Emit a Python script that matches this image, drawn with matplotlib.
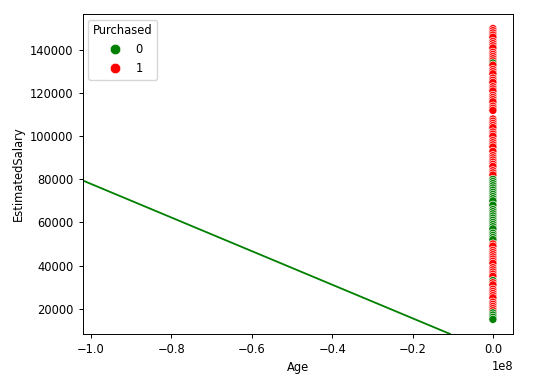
import pandas as pd
import matplotlib
matplotlib.use('Agg')
import matplotlib.pyplot as plt
import seaborn as sns

# salaries, top to bottom, in the order they are drawn
salary = [
    150000, 149000, 148000, 147000, 146000, 144000, 143000, 142000, 141000, 139000, 138000, 137000, 136000, 135000,
    134000,
    133000, 131000, 130000, 129000, 127000, 126000, 125000, 123000, 122000, 121000, 119000, 118000, 117000,
    116000, 114000, 113000, 112000, 108000, 107000, 106000, 105000, 104000, 102000, 101000, 100000, 98000,
    97000, 96000, 95000, 93000, 91000, 90000, 89000, 88000, 87000, 86000, 84000, 83000, 82000,
    69000, 67000, 56000,
    80000, 79000, 78000, 77000, 76000, 75000, 74000, 73000, 72000, 71000, 70000, 68000, 66000, 65000, 64000,
    63000, 62000, 61000, 60000, 59000, 58000, 57000, 55000, 54000, 53000, 52000,
    50000, 49000, 47000, 46000, 45000, 44000, 43000, 42000, 41000, 39000, 38000, 37000, 36000, 35000,
    33000,
    32000, 31000, 29000, 28000, 27000, 26000, 25000, 23000, 22000, 21000, 20000, 19000,
    18000, 17000, 16000, 15000,
]
purchased = (
    [1] * 14 + [0] + [1] * 39 + [1] * 3 + [0] * 26 + [1] * 14 + [0] + [1] * 12 + [0] * 4
)
age = [
    47, 49, 52, 35, 41, 46, 60, 37, 39, 42, 53, 50, 38, 48,
    35,
    41, 57, 36, 47, 59, 38, 45, 51, 40, 44, 55, 49, 39,
    42, 58, 46, 37, 50, 43, 54, 48, 39, 36, 45, 52, 41,
    47, 56, 38, 44, 49, 53, 40, 46, 57, 42, 48, 51, 39,
    52, 45, 59,
    27, 31, 26, 35, 29, 33, 24, 37, 28, 30, 36, 25, 32, 34, 21,
    38, 27, 29, 23, 31, 35, 26, 19, 33, 28, 30,
    47, 54, 50, 46, 58, 49, 45, 53, 48, 60, 51, 56, 44, 52,
    26,
    57, 48, 49, 55, 46, 59, 51, 47, 50, 53, 49, 58,
    18, 22, 20, 19,
]

# decision line endpoints
line_x = [-1.021e8, -0.107e8]
line_y = [79500, 8250]

df = pd.DataFrame({'Age': age, 'EstimatedSalary': salary, 'Purchased': purchased})

fs = 8.3
plt.rcParams.update({
    'font.size': fs,
    'axes.linewidth': 0.7,
    'xtick.major.size': 3,
    'ytick.major.size': 3,
    'xtick.major.width': 0.7,
    'ytick.major.width': 0.7,
})

fig = plt.figure(figsize=(5.4, 3.79), dpi=100)
ax = fig.add_axes([0.153, 0.119, 0.797, 0.844])

sns.scatterplot(data=df, x='Age', y='EstimatedSalary', hue='Purchased',
                palette={0: 'green', 1: 'red'}, s=34, ax=ax)
ax.plot(line_x, line_y, color='green', lw=1.3)

ax.set_xlim(-1.021e8, 0.05e8)
ax.set_ylim(8250, 156750)
ax.legend(title='Purchased', loc='upper left', fontsize=fs, title_fontsize=fs,
          markerscale=1.3)

fig.savefig('out.png', dpi=100)
